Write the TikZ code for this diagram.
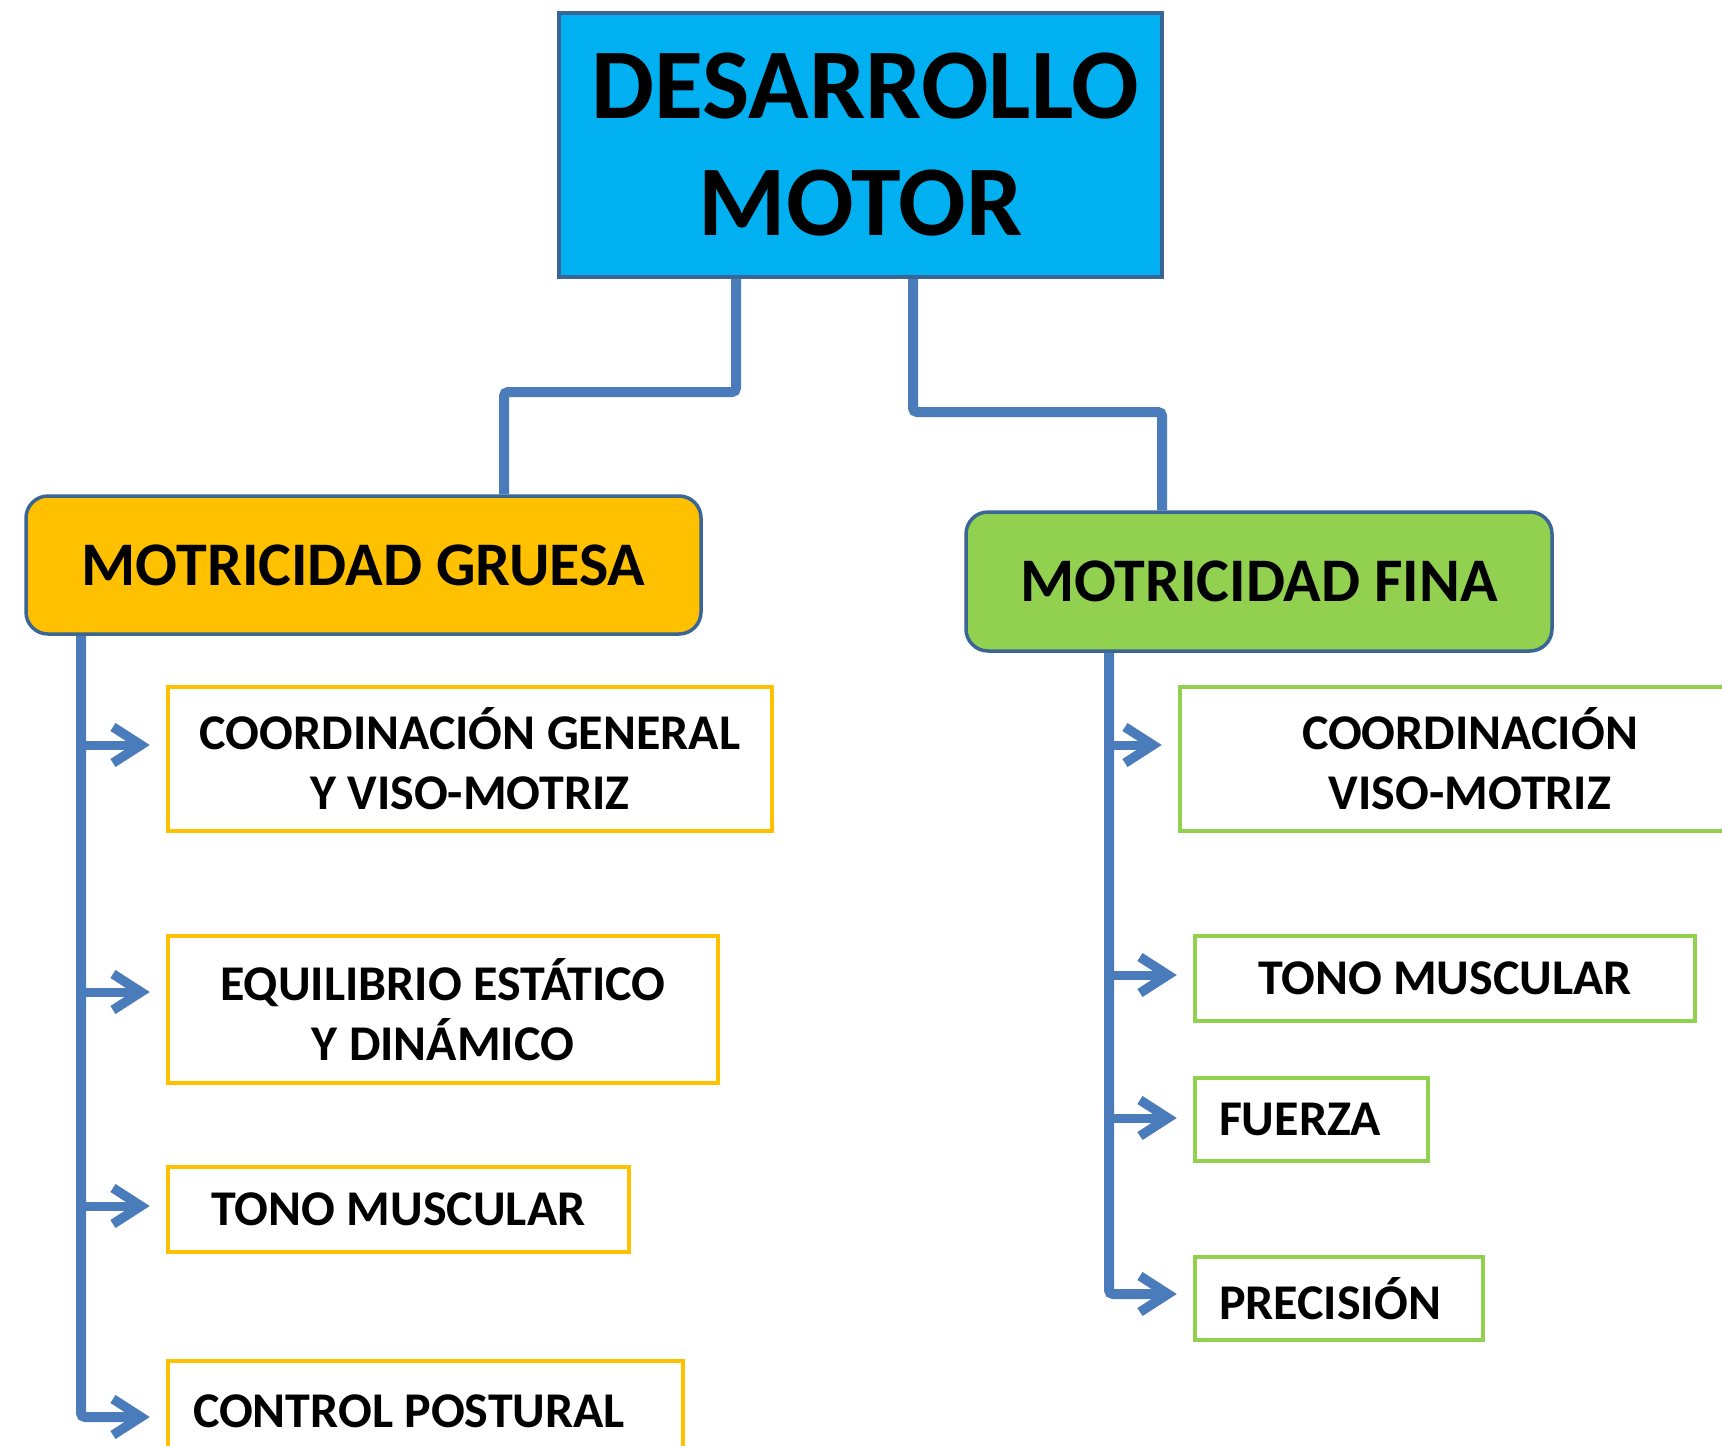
\documentclass[tikz,border=0pt]{standalone}
\usepackage{fontspec}
\setmainfont{Carlito}
\usetikzlibrary{arrows.meta}
\definecolor{cyanbox}{HTML}{00B0F0}
\definecolor{orangebox}{HTML}{FFC000}
\definecolor{greenbox}{HTML}{92D050}
\definecolor{edgeblue}{HTML}{3A6594}
\definecolor{connblue}{HTML}{4A7CBC}
\begin{document}
\begin{tikzpicture}[x=1pt,y=-1pt,
  mainbox/.style={draw=edgeblue, line width=3.5pt, inner sep=0pt, align=center, font=\bfseries},
  leafgo/.style={draw=orangebox, fill=white, line width=4.5pt, inner sep=0pt, align=center,
    font=\fontsize{50}{60}\selectfont\bfseries},
  leafgf/.style={draw=greenbox, fill=white, line width=4.5pt, inner sep=0pt, align=center,
    font=\fontsize{50}{60}\selectfont\bfseries},
  conn/.style={draw=connblue, line width=10pt, rounded corners=4pt},
  arr/.style={draw=connblue, line width=9pt, shorten >=16pt,
    -{Straight Barb[length=28pt,width=36pt,line width=9.5pt]}}
]
\useasboundingbox (0,0) rectangle (1722,1446);
\fill[white] (0,0) rectangle (1722,1446);

% main nodes
\node[mainbox, fill=cyanbox, minimum width=603pt, minimum height=264pt,
  font=\fontsize{100}{117}\selectfont\bfseries] (top) at (860.5,145) {\hspace*{10pt}DESARROLLO\\MOTOR};
\node[mainbox, fill=orangebox, rounded corners=22pt, minimum width=675pt, minimum height=138pt,
  font=\fontsize{62}{70}\selectfont\bfseries] (mg) at (363.5,565) {MOTRICIDAD GRUESA};
\node[mainbox, fill=greenbox, rounded corners=22pt, minimum width=586pt, minimum height=139pt,
  font=\fontsize{62}{70}\selectfont\bfseries] (mf) at (1259,581.5) {MOTRICIDAD FINA};

% left leaves
\node[leafgo, minimum width=604pt, minimum height=144pt] (l1) at (470,759) {COORDINACIÓN GENERAL\\Y VISO-MOTRIZ};
\node[leafgo, minimum width=550pt, minimum height=147pt] (l2) at (443,1009.5) {EQUILIBRIO ESTÁTICO\\Y DINÁMICO};
\node[leafgo, minimum width=461pt, minimum height=85pt] (l3) at (398.5,1209.5) {TONO MUSCULAR};
\node[leafgo, minimum width=515pt, minimum height=100pt] (l4) at (425.5,1411) {\makebox[465pt][l]{CONTROL POSTURAL}};

% right leaves
\node[leafgf, minimum width=580pt, minimum height=144pt] (r1) at (1470,759) {COORDINACIÓN\\VISO-MOTRIZ};
\node[leafgf, minimum width=500pt, minimum height=85pt] (r2) at (1445,978.5) {TONO MUSCULAR};
\node[leafgf, minimum width=233pt, minimum height=83pt] (r3) at (1311.5,1119.5) {\makebox[185pt][l]{FUERZA}};
\node[leafgf, minimum width=288pt, minimum height=83pt] (r4) at (1339,1298.5) {\makebox[240pt][l]{PRECISIÓN}};

% top connectors
\coordinate (a1) at (736,392);
\coordinate (a2) at (504,392);
\coordinate (b1) at (913,412);
\coordinate (b2) at (1162,412);
\draw[conn] (a1 |- top.south) -- (a1) -- (a2) -- (a2 |- mg.north);
\draw[conn] (b1 |- top.south) -- (b1) -- (b2) -- (b2 |- mf.north);

% left trunk
\coordinate (lt1) at (81,745);
\coordinate (lt2) at (81,992);
\coordinate (lt3) at (81,1206);
\coordinate (lt4) at (81,1417);
\draw[conn] (lt4 |- mg.south) -- (lt4) -- ([xshift=-30pt]lt4 -| l4.west);
\draw[arr] (lt1) -- (lt1 -| l1.west);
\draw[arr] (lt2) -- (lt2 -| l2.west);
\draw[arr] (lt3) -- (lt3 -| l3.west);
\draw[arr] ([xshift=4pt]lt4) -- (lt4 -| l4.west);

% right trunk
\coordinate (rt1) at (1109,745);
\coordinate (rt2) at (1109,975);
\coordinate (rt3) at (1109,1118);
\coordinate (rt4) at (1109,1294);
\draw[conn] (rt4 |- mf.south) -- (rt4) -- ([xshift=-30pt]rt4 -| r4.west);
\draw[arr] (rt1) -- (rt1 -| r1.west);
\draw[arr] (rt2) -- (rt2 -| r2.west);
\draw[arr] (rt3) -- (rt3 -| r3.west);
\draw[arr] ([xshift=4pt]rt4) -- (rt4 -| r4.west);
\end{tikzpicture}
\end{document}
